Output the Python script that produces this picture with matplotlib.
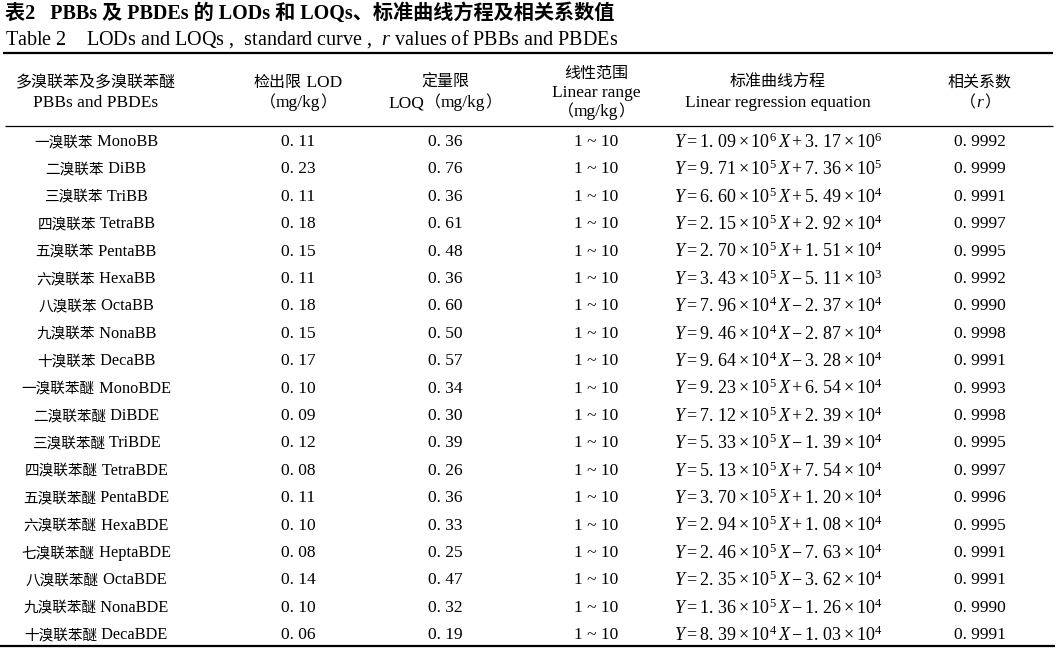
import matplotlib
matplotlib.use("Agg")
import matplotlib.pyplot as plt

plt.rcParams['font.family'] = ['Liberation Serif', 'Noto Sans CJK SC', 'DejaVu Sans']
plt.rcParams['mathtext.fontset'] = 'custom'
plt.rcParams['mathtext.rm'] = 'Liberation Serif'
plt.rcParams['mathtext.it'] = 'Liberation Serif:italic'
plt.rcParams['mathtext.bf'] = 'Liberation Serif:bold'

# ---- data ----
title_cn = "表2   PBBs 及 PBDEs 的 LODs 和 LOQs、标准曲线方程及相关系数值"
title_en = "Table 2    LODs and LOQs ,  standard curve ,  $r$ values of PBBs and PBDEs"

headers = [
    [["多溴联苯及多溴联苯醚"], ["PBBs and PBDEs"]],
    [["检出限", " LOD"], ["（", "mg/kg", "）"]],
    [["定量限"], ["LOQ", "（", "mg/kg", "）"]],
    [["线性范围"], ["Linear range"], ["（", "mg/kg", "）"]],
    [["标准曲线方程"], ["Linear regression equation"]],
    [["相关系数"], ["（", "$r$", "）"]],
]

names_cn = ["一溴联苯", "二溴联苯", "三溴联苯", "四溴联苯", "五溴联苯", "六溴联苯",
            "八溴联苯", "九溴联苯", "十溴联苯", "一溴联苯醚", "二溴联苯醚", "三溴联苯醚",
            "四溴联苯醚", "五溴联苯醚", "六溴联苯醚", "七溴联苯醚", "八溴联苯醚",
            "九溴联苯醚", "十溴联苯醚"]
names_en = ["MonoBB", "DiBB", "TriBB", "TetraBB", "PentaBB", "HexaBB", "OctaBB",
            "NonaBB", "DecaBB", "MonoBDE", "DiBDE", "TriBDE", "TetraBDE", "PentaBDE",
            "HexaBDE", "HeptaBDE", "OctaBDE", "NonaBDE", "DecaBDE"]
lod = [0.11, 0.23, 0.11, 0.18, 0.15, 0.11, 0.18, 0.15, 0.17, 0.10, 0.09, 0.12,
       0.08, 0.11, 0.10, 0.08, 0.14, 0.10, 0.06]
loq = [0.36, 0.76, 0.36, 0.61, 0.48, 0.36, 0.60, 0.50, 0.57, 0.34, 0.30, 0.39,
       0.26, 0.36, 0.33, 0.25, 0.47, 0.32, 0.19]
linear_range = ["1 ~ 10"] * 19
slope_mant = [1.09, 9.71, 6.60, 2.15, 2.70, 3.43, 7.96, 9.46, 9.64, 9.23, 7.12, 5.33,
              5.13, 3.70, 2.94, 2.46, 2.35, 1.36, 8.39]
slope_exp = [6, 5, 5, 5, 5, 5, 4, 4, 4, 5, 5, 5, 5, 5, 5, 5, 5, 5, 4]
icpt_mant = [3.17, 7.36, 5.49, 2.92, 1.51, -5.11, -2.37, -2.87, -3.28, 6.54, 2.39, -1.39,
             7.54, 1.20, 1.08, -7.63, -3.62, -1.26, -1.03]
icpt_exp = [6, 5, 4, 4, 4, 3, 4, 4, 4, 4, 4, 4, 4, 4, 4, 4, 4, 4, 4]
r_values = [0.9992, 0.9999, 0.9991, 0.9997, 0.9995, 0.9992, 0.9990, 0.9998, 0.9991,
            0.9993, 0.9998, 0.9995, 0.9997, 0.9996, 0.9995, 0.9991, 0.9991, 0.9990, 0.9991]

# ---- layout ----
W, H = 1060, 661
fig = plt.figure(figsize=(W / 100, H / 100), dpi=100)
ax = fig.add_axes([0, 0, 1, 1])
ax.set_xlim(0, W)
ax.set_ylim(H, 0)
ax.axis('off')
renderer = fig.canvas.get_renderer()

col_x = [96, 298, 445, 596, 778, 980]
fs_lat = 12.5
fs_cjk = 11.0
BASE = 5  # baseline offset below a row's visual centre


def is_cjk(s):
    return any(ord(c) > 0x2E80 for c in s)


def mixed(xc, y, parts, lat=fs_lat, cjk=fs_cjk, shift=0.0):
    """Draw text pieces on a common baseline, centred at xc."""
    arts, widths = [], []
    for p in parts:
        size = cjk if is_cjk(p) else lat
        t = ax.text(0, y + BASE + shift, p, fontsize=size, ha='left', va='baseline')
        arts.append(t)
        widths.append(t.get_window_extent(renderer).width)
    x = xc - sum(widths) / 2
    for t, w in zip(arts, widths):
        t.set_x(x)
        x += w


ax.text(5, 14, title_cn, fontsize=14.5, fontweight='bold', ha='left', va='center')
ax.text(5, 39, title_en, fontsize=14.5, ha='left', va='center')

ax.hlines(53, 3, 1053, color='black', lw=1.6)
ax.hlines(126, 5, 1053, color='black', lw=0.9)
ax.hlines(646, 0, 1055, color='black', lw=1.6)

for x, lines in zip(col_x, headers):
    ys = [82, 102] if len(lines) == 2 else [73, 92, 111]
    for y, parts in zip(ys, lines):
        mixed(x, y, parts, lat=12.5, cjk=11.5)


def dec(v, nd):
    return f"{v:.{nd}f}".replace('.', '. ')


def fmt_eq(sm, se, im, ie):
    sign = '-' if im < 0 else '+'
    a = f"{sm:.2f}".replace('.', r'.\,')
    b = f"{abs(im):.2f}".replace('.', r'.\,')
    return rf"$Y = {a}\times10^{{{se}}}\,X {sign} {b}\times10^{{{ie}}}$"


y0, dy = 141, 27.4
for i in range(len(names_cn)):
    y = y0 + i * dy
    mixed(col_x[0], y, [names_cn[i], " " + names_en[i]], lat=11.8, cjk=10.5)
    mixed(col_x[1], y, [dec(lod[i], 2)])
    mixed(col_x[2], y, [dec(loq[i], 2)])
    mixed(col_x[3], y, [linear_range[i]])
    mixed(col_x[4], y, [fmt_eq(slope_mant[i], slope_exp[i], icpt_mant[i], icpt_exp[i])],
          lat=13, shift=1.8)
    mixed(col_x[5], y, [dec(r_values[i], 4)])

fig.savefig("out.png", dpi=100)
